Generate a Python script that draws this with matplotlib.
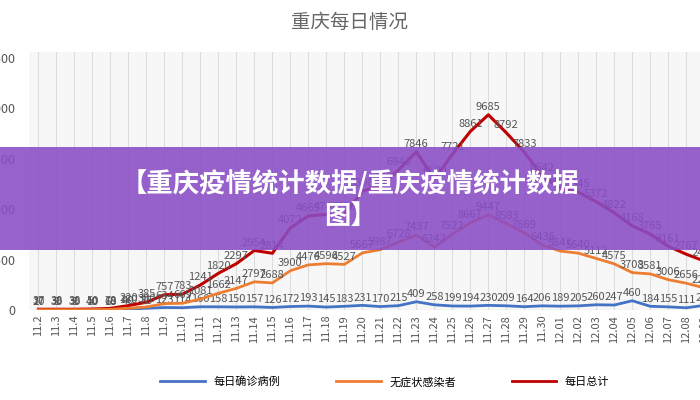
import matplotlib
matplotlib.use("Agg")
import matplotlib.pyplot as plt
from matplotlib.patches import Rectangle

plt.rcParams['font.family'] = ['Noto Sans CJK SC', 'DejaVu Sans']

dates = ["11.2","11.3","11.4","11.5","11.6","11.7","11.8","11.9","11.10","11.11","11.12","11.13",
         "11.14","11.15","11.16","11.17","11.18","11.19","11.20","11.21","11.22","11.23","11.24",
         "11.25","11.26","11.27","11.28","11.29","11.30","12.01","12.02","12.03","12.04","12.05",
         "12.06","12.07","12.08","12.09"]
confirmed = [17, 8, 8, 10, 18, 40, 85, 123, 114, 160, 158, 150, 157, 126, 172, 193, 145, 183, 231,
             170, 215, 409, 258, 199, 194, 230, 209, 164, 206, 189, 205, 260, 247, 460, 184, 155, 111, 230]
asymptomatic = [20, 30, 30, 40, 60, 180, 300, 634, 669, 1081, 1662, 2147, 2797, 2688, 3900, 4476,
                4596, 4527, 5667, 5987, 6728, 7437, 6242, 7522, 8667, 9447, 8583, 7669, 6436, 5847,
                5640, 5112, 4575, 3708, 3581, 3006, 2656, 2200]
total = [37, 38, 38, 50, 78, 220, 385, 757, 783, 1241, 1820, 2297, 2954, 2814, 4072, 4669, 4741,
         4710, 5898, 6157, 6943, 7846, 6500, 7721, 8861, 9685, 8792, 7833, 6642, 6036, 5845, 5372,
         4822, 4168, 3765, 3161, 2767, 2430]
names = ["每日确诊病例", "无症状感染者", "每日总计"]
colors = ["#4472c4", "#ed7d31", "#c00000"]
title = "重庆每日情况"
banner_text = "【重庆疫情统计数据/重庆疫情统计数据\n图】"

fig = plt.figure(figsize=(7, 4), dpi=100)
ax = fig.add_axes([0.042, 0.225, 0.977, 0.645])
ax2 = ax.twinx()
ax.set_facecolor("#f7f7f7")
x = list(range(len(dates)))

def draw(a, s, c, lw):
    a.plot(x, s, color=c, lw=lw)
    for xi, v in zip(x, s):
        a.annotate(str(v), (xi, v), xytext=(0, 2), textcoords="offset points",
                   ha="center", va="bottom", fontsize=8, color="#555555")

draw(ax, confirmed, colors[0], 2)
draw(ax2, asymptomatic, colors[1], 2)
draw(ax, total, colors[2], 2.2)

ax.set_xlim(-0.5, len(dates) - 0.5)
ax.set_ylim(0, 12800)
ax2.set_ylim(0, 25600)
ax2.set_yticks([])
ax.set_yticks([0, 2500, 5000, 7500, 10000, 12500])
ax.set_xticks(x)
ax.set_xticklabels(dates, rotation=90, fontsize=8, color="#555555")
ax.tick_params(axis="y", labelsize=9, colors="#555555", length=0, pad=10)
ax.tick_params(axis="x", length=0)
ax.grid(axis="x", color="#dddddd", lw=0.8)
ax.grid(axis="y", visible=False)
for a in (ax, ax2):
    for sp in a.spines.values():
        sp.set_visible(False)
ax.axhline(0, color="#cccccc", lw=0.8)

fig.text(0.5, 0.945, title, ha="center", va="center", fontsize=14, color="#666666")

handles = [plt.Line2D([], [], color=c, lw=2) for c in colors]
fig.legend(handles, names, loc="center", bbox_to_anchor=(0.55, 0.045), ncol=3, frameon=False,
           fontsize=8, handlelength=4, columnspacing=5)

fig.patches.append(Rectangle((0, 1 - 250 / 400), 1, 103 / 400, transform=fig.transFigure,
                             facecolor="#8a4cc6", alpha=0.88, zorder=10))
fig.text(0.5, 0.5, banner_text, ha="center", va="center", fontsize=19, fontweight="bold",
         color="white", zorder=11, linespacing=1.25)

fig.savefig("out.png", dpi=100)
